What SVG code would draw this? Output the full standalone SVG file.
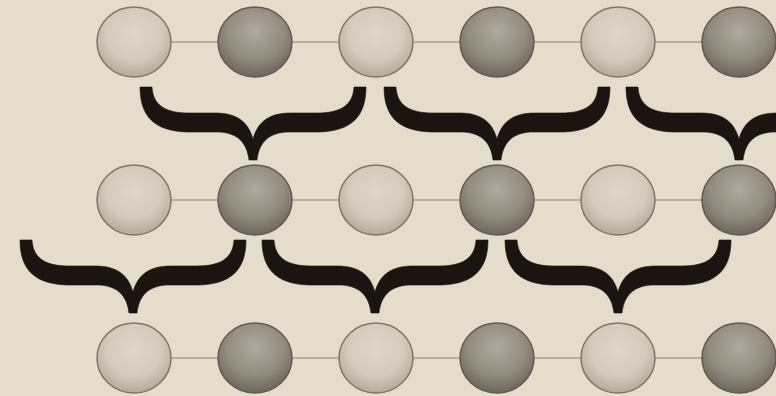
<svg xmlns="http://www.w3.org/2000/svg" width="776" height="396" viewBox="0 0 776 396">
<defs>
<radialGradient id="gl" cx="0.5" cy="0.38" r="0.62">
<stop offset="0" stop-color="#ddd6ca"/>
<stop offset="0.6" stop-color="#d3cbbe"/>
<stop offset="1" stop-color="#b3aa9a"/>
</radialGradient>
<radialGradient id="gd" cx="0.5" cy="0.35" r="0.65">
<stop offset="0" stop-color="#b0a99f"/>
<stop offset="0.6" stop-color="#928b80"/>
<stop offset="1" stop-color="#6d665c"/>
</radialGradient>
<path id="brace" d="M -113,0 C -113,30 -98,44 -66,45 L -34,45 C -15,46 -6,56 -4,73 L 4,73 C 6,56 15,46 34,45 L 66,45 C 98,44 113,30 113,0 L 101,0 C 100,18 88,26 64,26 L 38,26 C 17,26 5,34 0,52 C -5,34 -17,26 -38,26 L -64,26 C -88,26 -100,18 -101,0 Z"/>
</defs>
<style>
.light{fill:url(#gl);stroke:#7f7667;stroke-width:1.5}
.dark{fill:url(#gd);stroke:#625b51;stroke-width:1.5}
.link{stroke:#ab9f89;stroke-width:1.5;fill:none}
.br{fill:#1a1510;stroke:#1a1510;stroke-width:0.6}
</style>
<rect width="776" height="396" fill="#e4ddcc"/>
<g id="connectors">
<line class="link" x1="134" y1="42" x2="776" y2="42"/>
<line class="link" x1="134" y1="200" x2="776" y2="200"/>
<line class="link" x1="134" y1="358" x2="776" y2="358"/>
<use href="#brace" class="br" x="253" y="87"/>
<use href="#brace" class="br" x="497" y="87"/>
<use href="#brace" class="br" x="739" y="87"/>
<use href="#brace" class="br" x="133" y="240"/>
<use href="#brace" class="br" x="375" y="240"/>
<use href="#brace" class="br" x="618" y="240"/>
</g>
<g id="r1n1"><ellipse class="light" cx="134" cy="42" rx="37" ry="35"/></g>
<g id="r1n2"><ellipse class="dark" cx="255" cy="42" rx="37" ry="35"/></g>
<g id="r1n3"><ellipse class="light" cx="376" cy="42" rx="37" ry="35"/></g>
<g id="r1n4"><ellipse class="dark" cx="497" cy="42" rx="37" ry="35"/></g>
<g id="r1n5"><ellipse class="light" cx="618" cy="42" rx="37" ry="35"/></g>
<g id="r1n6"><ellipse class="dark" cx="739" cy="42" rx="37" ry="35"/></g>
<g id="r2n1"><ellipse class="light" cx="134" cy="200" rx="37" ry="35"/></g>
<g id="r2n2"><ellipse class="dark" cx="255" cy="200" rx="37" ry="35"/></g>
<g id="r2n3"><ellipse class="light" cx="376" cy="200" rx="37" ry="35"/></g>
<g id="r2n4"><ellipse class="dark" cx="497" cy="200" rx="37" ry="35"/></g>
<g id="r2n5"><ellipse class="light" cx="618" cy="200" rx="37" ry="35"/></g>
<g id="r2n6"><ellipse class="dark" cx="739" cy="200" rx="37" ry="35"/></g>
<g id="r3n1"><ellipse class="light" cx="134" cy="358" rx="37" ry="35"/></g>
<g id="r3n2"><ellipse class="dark" cx="255" cy="358" rx="37" ry="35"/></g>
<g id="r3n3"><ellipse class="light" cx="376" cy="358" rx="37" ry="35"/></g>
<g id="r3n4"><ellipse class="dark" cx="497" cy="358" rx="37" ry="35"/></g>
<g id="r3n5"><ellipse class="light" cx="618" cy="358" rx="37" ry="35"/></g>
<g id="r3n6"><ellipse class="dark" cx="739" cy="358" rx="37" ry="35"/></g>
</svg>
